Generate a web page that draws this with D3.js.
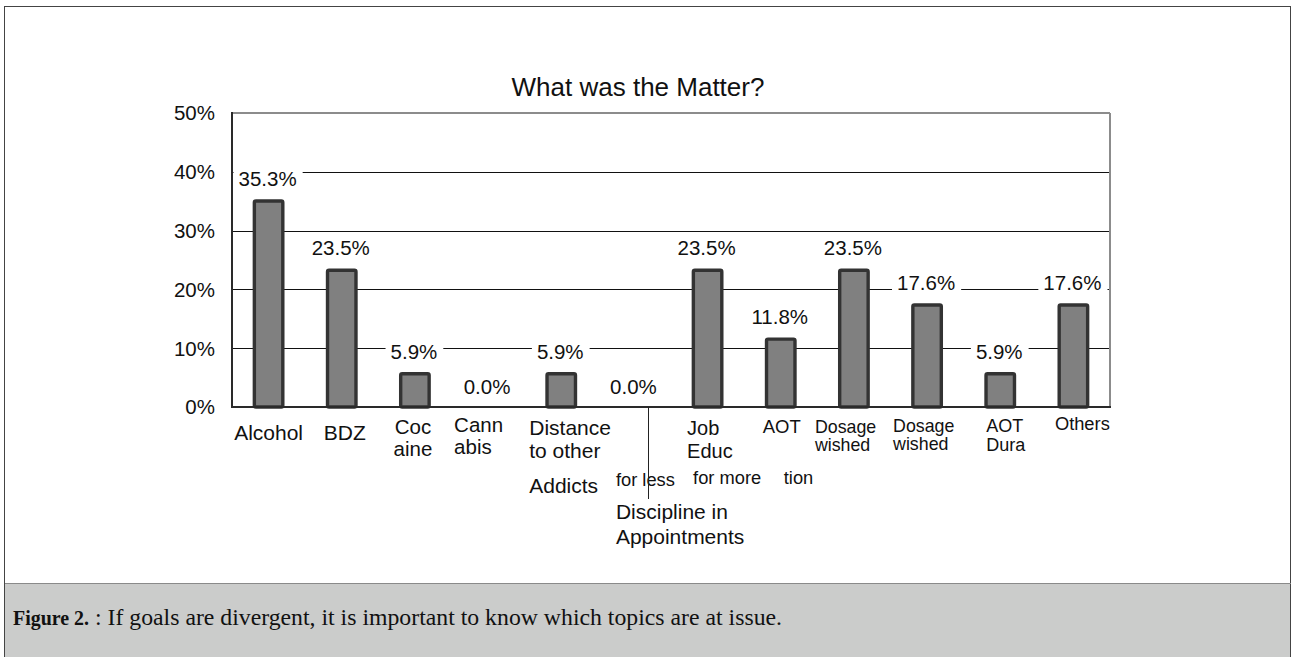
<!DOCTYPE html>
<html>
<head>
<meta charset="utf-8">
<script src="https://cdn.jsdelivr.net/npm/d3@7"></script>
<style>
  html, body { margin: 0; padding: 0; background: #fff; }
  svg { display: block; }
  text { font-family: "Liberation Sans", Arial, sans-serif; fill: #111; }
  .caption text { font-family: "Liberation Serif", "Times New Roman", serif; }
</style>
</head>
<body>
<svg id="chart" width="1291" height="657"></svg>
<script>
// Share of respondents naming each topic
const categories = ["Alcohol", "BDZ", "Cocaine", "Cannabis", "Distance to other Addicts",
  "Discipline in Appointments", "Job Education", "AOT Duration for more",
  "Dosage wished for more", "Dosage wished for less", "AOT Duration for less", "Others"];
const values = [0.353, 0.235, 0.059, 0.000, 0.059, 0.000, 0.235, 0.118, 0.235, 0.176, 0.059, 0.176];
const valueLabels = ["35.3%", "23.5%", "5.9%", "0.0%", "5.9%", "0.0%", "23.5%", "11.8%", "23.5%", "17.6%", "5.9%", "17.6%"];
const yTicks = [0, 0.1, 0.2, 0.3, 0.4, 0.5];
const yTickLabels = ["0%", "10%", "20%", "30%", "40%", "50%"];
// Axis label text, line by line, as it is set under each bar
const axisLabelLines = [
  ["Alcohol"],
  ["BDZ"],
  ["Coc", "aine"],
  ["Cann", "abis"],
  ["Distance", "to other", "Addicts"],
  ["for less", "Discipline in", "Appointments"],
  ["Job", "Educ", "for more"],
  ["AOT", "tion"],
  ["Dosage", "wished"],
  ["Dosage", "wished"],
  ["AOT", "Dura"],
  ["Others"]
];
const title = "What was the Matter?";
const captionBold = "Figure 2.";
const captionText = ": If goals are divergent, it is important to know which topics are at issue.";

// ---- layout ----
const svg = d3.select("#chart");
const plot = { left: 232, right: 1110, top: 113, bottom: 407 };

const x = d3.scaleBand()
  .domain(categories)
  .range([plot.left, plot.right])
  .paddingInner(0.57)
  .paddingOuter(0.285);
const y = d3.scaleLinear().domain([0, 0.5]).range([plot.bottom, plot.top]);
const cx = c => x(c) + x.bandwidth() / 2;

// outer frame and caption panel
svg.append("rect").attr("x", 4.5).attr("y", 6.5).attr("width", 1286).attr("height", 660)
  .attr("fill", "#fff").attr("stroke", "#444").attr("stroke-width", 1);
const cap = svg.append("g").attr("class", "caption");
cap.append("rect").attr("x", 5).attr("y", 583).attr("width", 1285).attr("height", 80)
  .attr("fill", "#cbcccb");
cap.append("line").attr("x1", 5).attr("x2", 1291).attr("y1", 583.5).attr("y2", 583.5)
  .attr("stroke", "#8a8a8a");
cap.append("text").attr("x", 13).attr("y", 625).attr("font-size", 21)
  .attr("font-weight", "bold")
  .attr("textLength", 76).attr("lengthAdjust", "spacingAndGlyphs")
  .text(captionBold);
cap.append("text").attr("x", 95).attr("y", 625).attr("font-size", 22.5)
  .attr("textLength", 687).attr("lengthAdjust", "spacingAndGlyphs")
  .text(captionText);

// title
svg.append("text").attr("x", 638).attr("y", 96).attr("text-anchor", "middle")
  .attr("font-size", 26).text(title);

// horizontal gridlines
svg.append("g").selectAll("line")
  .data(yTicks.filter(t => t > 0 && t < 0.5))
  .join("line")
  .attr("x1", plot.left).attr("x2", plot.right)
  .attr("y1", d => Math.round(y(d)) + 0.5).attr("y2", d => Math.round(y(d)) + 0.5)
  .attr("stroke", "#111").attr("stroke-width", 1);

// plot frame: grey top and right, dark axis lines
svg.append("line").attr("x1", plot.left).attr("x2", plot.right).attr("y1", plot.top).attr("y2", plot.top)
  .attr("stroke", "#8c8c8c").attr("stroke-width", 2);
svg.append("line").attr("x1", plot.right).attr("x2", plot.right).attr("y1", plot.top).attr("y2", plot.bottom)
  .attr("stroke", "#8c8c8c").attr("stroke-width", 2);

// y tick labels
svg.append("g").selectAll("text")
  .data(yTicks)
  .join("text")
  .attr("x", 215).attr("y", d => y(d)).attr("dy", "0.36em")
  .attr("text-anchor", "end").attr("font-size", 20.5)
  .text((d, i) => yTickLabels[i]);

// value labels sit on white boxes that break the gridlines
const labelG = svg.append("g");
const lab = labelG.selectAll("g")
  .data(categories.map((c, i) => ({ c, v: values[i], t: valueLabels[i] })))
  .join("g");
lab.append("rect").attr("class", "bg").attr("fill", "#fff");
lab.append("text")
  .attr("x", d => cx(d.c) - 1)
  .attr("y", d => y(d.v) - 13.5)
  .attr("text-anchor", "middle").attr("font-size", 20.5)
  .text(d => d.t);
lab.each(function () {
  const g = d3.select(this);
  const bb = g.select("text").node().getBBox();
  g.select("rect.bg")
    .attr("x", bb.x - 5).attr("width", bb.width + 11)
    .attr("y", bb.y - 1).attr("height", bb.height + 4);
});

// bars
svg.append("g").selectAll("rect")
  .data(categories.map((c, i) => ({ c, v: values[i] })).filter(d => d.v > 0))
  .join("rect")
  .attr("x", d => x(d.c) + 1.5)
  .attr("y", d => y(d.v) + 1.5)
  .attr("width", x.bandwidth() - 3)
  .attr("height", d => plot.bottom - y(d.v) - 1.5)
  .attr("rx", 1.5)
  .attr("fill", "#808080")
  .attr("stroke", "#333")
  .attr("stroke-width", 3.4);

// axis lines
svg.append("line").attr("x1", plot.left).attr("x2", plot.left).attr("y1", plot.top - 1).attr("y2", plot.bottom + 1)
  .attr("stroke", "#2a2a2a").attr("stroke-width", 2);
svg.append("line").attr("x1", plot.left - 1).attr("x2", plot.right + 1).attr("y1", plot.bottom).attr("y2", plot.bottom)
  .attr("stroke", "#2a2a2a").attr("stroke-width", 2);

// category labels: per line, offset from the band centre, baseline, size and anchor
const lineLayout = [
  [[0, 440, 21, "middle"]],
  [[3, 440, 21, "middle"]],
  [[-2, 434, 20.5, "middle"], [-2, 456, 20.5, "middle"]],
  [[-34, 432, 20.5, "start"], [-34, 454, 20.5, "start"]],
  [[-32, 435, 21, "start"], [-32, 458, 21, "start"], [-32, 493, 21, "start"]],
  [[-18.5, 486, 18.3, "start"], [-18.5, 519, 21, "start"], [-18.5, 544, 21, "start"]],
  [[-20.5, 435, 20, "start"], [-20.5, 458, 20, "start"], [-14.5, 484, 18.3, "start"]],
  [[-18, 433, 18.5, "start"], [3, 484, 18.3, "start"]],
  [[-39, 433, 17.8, "start"], [-39, 451, 17.8, "start"]],
  [[-34, 432, 17.8, "start"], [-34, 450, 17.8, "start"]],
  [[-14, 432, 18, "start"], [-14, 451, 18, "start"]],
  [[-18.5, 430, 18.3, "start"]]
];
const catG = svg.append("g");
categories.forEach((c, i) => {
  axisLabelLines[i].forEach((line, j) => {
    const [dx, base, size, anchor] = lineLayout[i][j];
    catG.append("text")
      .attr("x", cx(c) + dx).attr("y", base)
      .attr("font-size", size).attr("text-anchor", anchor)
      .text(line);
  });
});

// leader line under the discipline category
const disc = categories[5];
svg.append("line")
  .attr("x1", Math.round(cx(disc) + 13.5) + 0.5).attr("x2", Math.round(cx(disc) + 13.5) + 0.5)
  .attr("y1", plot.bottom).attr("y2", 499)
  .attr("stroke", "#222").attr("stroke-width", 1);
</script>
</body>
</html>
